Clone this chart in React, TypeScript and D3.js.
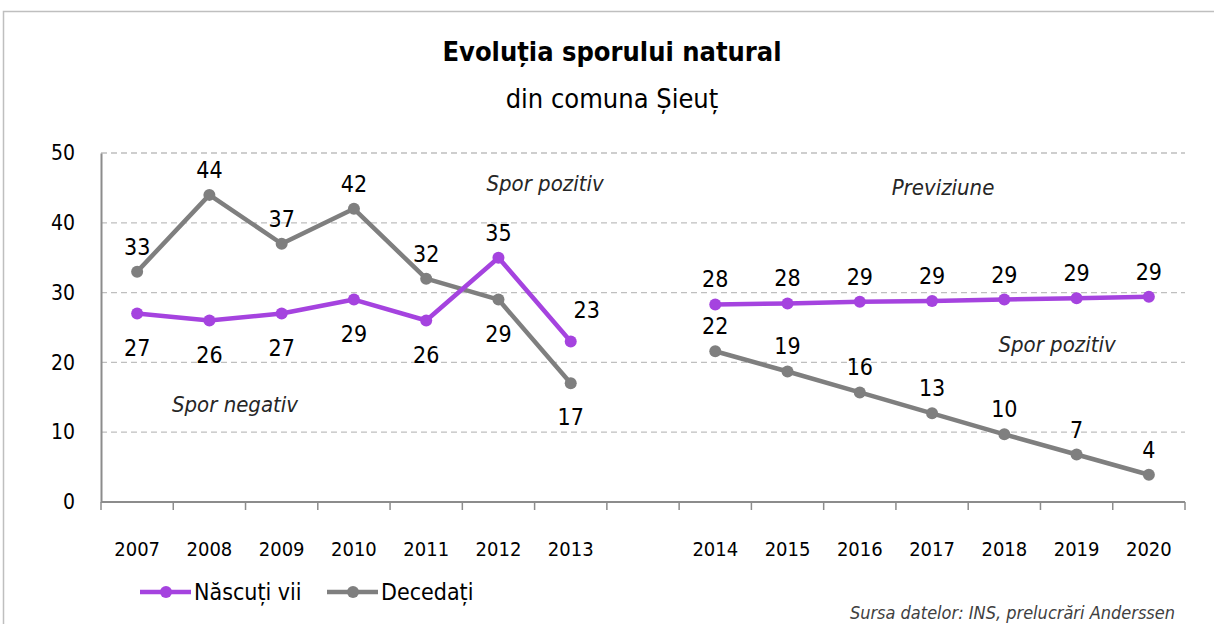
import { useEffect, useRef } from 'react';
import * as d3 from 'd3';

// categories ('' is the gap between the two periods)
const years = ['2007', '2008', '2009', '2010', '2011', '2012', '2013', '', '2014', '2015', '2016', '2017', '2018', '2019', '2020'];
const nascuti: (number | null)[] = [27, 26, 27, 29, 26, 35, 23, null, 28.3, 28.45, 28.7, 28.8, 29.0, 29.2, 29.4];
const decedati: (number | null)[] = [33, 44, 37, 42, 32, 29, 17, null, 21.6, 18.7, 15.7, 12.7, 9.7, 6.8, 3.9];
const yTicks = [0, 10, 20, 30, 40, 50];

// where each label sits relative to its point
const nascutiPos = ['below', 'below', 'below', 'below', 'below', 'above', 'aboveRight', '', 'above', 'above', 'above', 'above', 'above', 'above', 'above'];
const decedatiPos = ['above', 'above', 'above', 'above', 'above', 'below', 'below', '', 'above', 'above', 'above', 'above', 'above', 'above', 'above'];

const PURPLE = '#A543DF';
const GRAY = '#7F7F7F';
const FONT = "'Liberation Sans Narrow', 'DejaVu Sans Condensed', 'Roboto', sans-serif";

export default function App() {
  const svgRef = useRef<SVGSVGElement>(null);

  useEffect(() => {
    if (!svgRef.current) return;
    const svg = d3.select(svgRef.current);
    svg.selectAll('*').remove();

    const left = 101, right = 1185, top = 153, bottom = 502;

    const x = d3.scaleBand<number>()
      .domain(years.map((_, i) => i))
      .range([left, right])
      .padding(0);
    const y = d3.scaleLinear().domain([0, 50]).range([bottom, top]);
    const cx = (i: number) => (x(i) || 0) + x.bandwidth() / 2;

    // frame
    svg.append('rect')
      .attr('x', 3.5).attr('y', 11.5)
      .attr('width', 1230).attr('height', 640)
      .attr('fill', 'white')
      .attr('stroke', '#BFBFBF')
      .attr('stroke-width', 1.5);

    // title
    svg.append('text')
      .attr('x', 612).attr('y', 61)
      .attr('text-anchor', 'middle')
      .style('font-family', FONT)
      .style('font-size', '27px')
      .style('font-weight', 'bold')
      .attr('fill', '#000')
      .text('Evoluția sporului natural');
    svg.append('text')
      .attr('x', 612).attr('y', 108)
      .attr('text-anchor', 'middle')
      .style('font-family', FONT)
      .style('font-size', '27px')
      .attr('fill', '#000')
      .text('din comuna Șieuț');

    // grid lines
    svg.selectAll('.grid')
      .data(yTicks.filter(t => t > 0))
      .join('line')
      .attr('x1', left).attr('x2', right)
      .attr('y1', d => y(d)).attr('y2', d => y(d))
      .attr('stroke', '#BFBFBF')
      .attr('stroke-width', 1.3)
      .attr('stroke-dasharray', '6,4');

    // y axis
    const gy = svg.append('g')
      .attr('transform', `translate(${left},0)`)
      .call(d3.axisLeft(y).tickValues(yTicks).tickSize(0).tickPadding(26));
    gy.select('.domain').attr('stroke', '#8C8C8C').attr('stroke-width', 2);
    gy.selectAll('text')
      .style('font-family', FONT)
      .style('font-size', '21px')
      .attr('fill', '#000');

    // x axis line + boundary ticks
    svg.append('line')
      .attr('x1', left).attr('x2', right)
      .attr('y1', bottom).attr('y2', bottom)
      .attr('stroke', '#8C8C8C').attr('stroke-width', 2);
    const bounds = d3.range(years.length + 1).map(i => left + i * x.bandwidth());
    svg.selectAll('.xt')
      .data(bounds)
      .join('line')
      .attr('x1', d => d).attr('x2', d => d)
      .attr('y1', bottom).attr('y2', bottom + 8)
      .attr('stroke', '#8C8C8C').attr('stroke-width', 1.5);
    svg.selectAll('.xl')
      .data(years.map((t, i) => ({ t, i })).filter(d => d.t))
      .join('text')
      .attr('x', d => cx(d.i))
      .attr('y', 556)
      .attr('text-anchor', 'middle')
      .style('font-family', FONT)
      .style('font-size', '20px')
      .attr('fill', '#000')
      .text(d => d.t);

    // series
    const series = [
      { values: decedati, color: GRAY, pos: decedatiPos },
      { values: nascuti, color: PURPLE, pos: nascutiPos },
    ];
    const line = d3.line<number | null>()
      .defined(d => d !== null)
      .x((_, i) => cx(i))
      .y(d => y(d as number));

    series.forEach(s => {
      svg.append('path')
        .datum(s.values)
        .attr('fill', 'none')
        .attr('stroke', s.color)
        .attr('stroke-width', 4.5)
        .attr('stroke-linejoin', 'round')
        .attr('d', line);
      const pts = s.values.map((v, i) => ({ v, i })).filter(d => d.v !== null) as { v: number; i: number }[];
      svg.selectAll(null)
        .data(pts)
        .join('circle')
        .attr('cx', d => cx(d.i))
        .attr('cy', d => y(d.v))
        .attr('r', 6)
        .attr('fill', s.color);
    });

    // data labels
    series.forEach(s => {
      const pts = s.values.map((v, i) => ({ v, i })).filter(d => d.v !== null) as { v: number; i: number }[];
      svg.selectAll(null)
        .data(pts)
        .join('text')
        .attr('x', d => cx(d.i) + (s.pos[d.i] === 'aboveRight' ? 16 : 0))
        .attr('y', d => {
          const p = s.pos[d.i];
          if (p === 'below') return y(d.v) + 42;
          if (p === 'aboveRight') return y(d.v) - 23;
          return y(d.v) - 17;
        })
        .attr('text-anchor', 'middle')
        .style('font-family', FONT)
        .style('font-size', '23px')
        .attr('fill', '#000')
        .text(d => Math.round(d.v));
    });

    // annotations
    const notes = [
      { t: 'Spor pozitiv', x: 545, y: 191 },
      { t: 'Previziune', x: 943, y: 195 },
      { t: 'Spor pozitiv', x: 1057, y: 352 },
      { t: 'Spor negativ', x: 235, y: 412 },
    ];
    svg.selectAll('.note')
      .data(notes)
      .join('text')
      .attr('x', d => d.x).attr('y', d => d.y)
      .attr('text-anchor', 'middle')
      .style('font-family', FONT)
      .style('font-size', '22px')
      .style('font-style', 'italic')
      .attr('fill', '#262626')
      .text(d => d.t);

    // legend
    const legend = [
      { t: 'Născuți vii', color: PURPLE, x: 140 },
      { t: 'Decedați', color: GRAY, x: 327 },
    ];
    legend.forEach(l => {
      svg.append('line')
        .attr('x1', l.x).attr('x2', l.x + 51)
        .attr('y1', 592).attr('y2', 592)
        .attr('stroke', l.color).attr('stroke-width', 4.5);
      svg.append('circle')
        .attr('cx', l.x + 26).attr('cy', 592).attr('r', 6).attr('fill', l.color);
      svg.append('text')
        .attr('x', l.x + 54).attr('y', 600)
        .style('font-family', FONT)
        .style('font-size', '23px')
        .attr('fill', '#000')
        .text(l.t);
    });

    // source
    svg.append('text')
      .attr('x', 1175).attr('y', 619)
      .attr('text-anchor', 'end')
      .style('font-family', FONT)
      .style('font-size', '18px')
      .style('font-style', 'italic')
      .attr('fill', '#404040')
      .text('Sursa datelor: INS, prelucrări Anderssen');
  }, []);

  return (
    <svg
      ref={svgRef}
      width={1214}
      height={624}
      style={{ position: 'absolute', left: 0, top: 0, background: 'white' }}
    />
  );
}
